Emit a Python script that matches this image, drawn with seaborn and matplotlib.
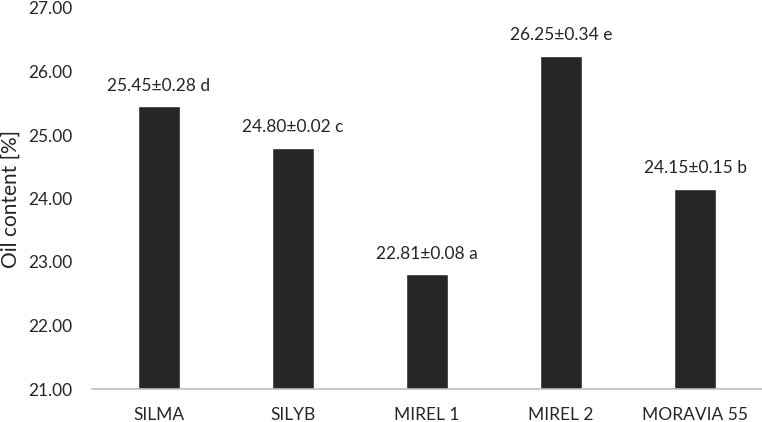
import matplotlib
matplotlib.use("Agg")
import matplotlib.pyplot as plt
import seaborn as sns
import pandas as pd

categories = ["SILMA", "SILYB", "MIREL 1", "MIREL 2", "MORAVIA 55"]
means = [25.45, 24.80, 22.81, 26.25, 24.15]
sds = ["0.28", "0.02", "0.08", "0.34", "0.15"]
letters = ["d", "c", "a", "e", "b"]
yticks = [21, 22, 23, 24, 25, 26, 27]

sns.set_theme(style="white")
plt.rcParams['font.family'] = ['Lato', 'DejaVu Sans']

df = pd.DataFrame({"cat": categories, "val": means})
fig = plt.figure(figsize=(7.62, 4.22), dpi=100)
ax = fig.add_axes([92/762, 1 - 389/422, 670/762, 381/422])
sns.barplot(data=df, x="cat", y="val", color="#262626", width=0.31,
            saturation=1, ax=ax)
ax.set_ylim(21, 27)
ax.set_yticks(yticks)
ax.set_yticklabels([f"{t:.2f}" for t in yticks], fontsize=12.5, color="#262626")
ax.tick_params(axis='x', labelsize=12.5, colors="#262626", length=0, pad=13)
ax.tick_params(axis='y', length=0, pad=14)
ax.set_xlabel("")
ax.set_ylabel("Oil content [%]", fontsize=15, color="#262626", va="center")
ax.yaxis.set_label_coords(-(92 - 11) / 670, 0.5)
for s in ["top", "right", "left"]:
    ax.spines[s].set_visible(False)
ax.spines["bottom"].set_color("#bfbfbf")
ax.spines["bottom"].set_linewidth(1.2)
for i, (m, sd, l) in enumerate(zip(means, sds, letters)):
    ax.annotate(f"{m:.2f}±{sd} {l}", xy=(i, m), xytext=(0, 9), textcoords="offset points",
                ha="center", va="bottom", fontsize=12.5, color="#262626")
fig.savefig("out.png", dpi=100)
